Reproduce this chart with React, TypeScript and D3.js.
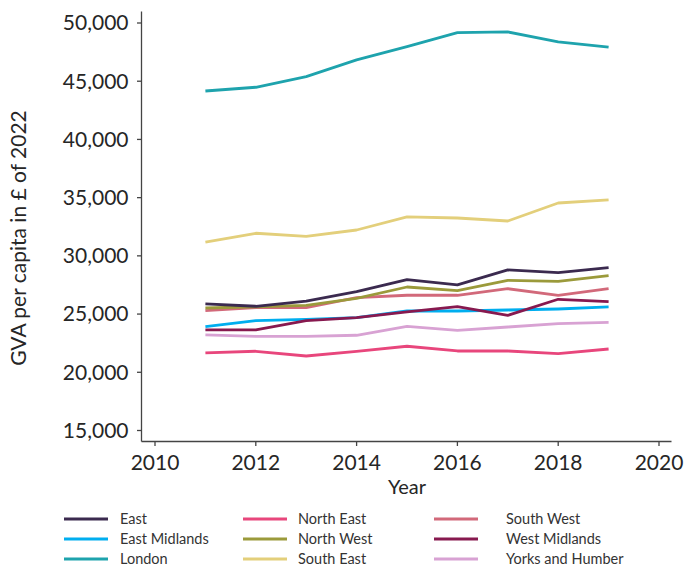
import React from "react";
import * as d3 from "d3";

const years = [2011, 2012, 2013, 2014, 2015, 2016, 2017, 2018, 2019];
const xTicks = [2010, 2012, 2014, 2016, 2018, 2020];
const yTicks = [15000, 20000, 25000, 30000, 35000, 40000, 45000, 50000];

const regions = [
  "East", "East Midlands", "London",
  "North East", "North West", "South East",
  "South West", "West Midlands", "Yorks and Humber",
];
const colors = [
  "#3b2a4f", "#00aeef", "#1ea3ad",
  "#e8467c", "#9b9a3b", "#e3cf7b",
  "#d2697a", "#87194f", "#d8a2d3",
];

const east = [25870, 25670, 26120, 26920, 27950, 27500, 28790, 28555, 28985];
const eastMidlands = [23915, 24430, 24550, 24690, 25265, 25265, 25350, 25435, 25610];
const london = [44160, 44480, 45390, 46830, 47970, 49170, 49230, 48370, 47920];
const northEast = [21660, 21805, 21400, 21805, 22235, 21830, 21830, 21600, 22000];
const northWest = [25520, 25630, 25755, 26355, 27325, 27010, 27900, 27815, 28300];
const southEast = [31170, 31940, 31680, 32220, 33340, 33250, 32995, 34540, 34800];
const southWest = [25290, 25550, 25550, 26410, 26615, 26615, 27180, 26615, 27180];
const westMidlands = [23635, 23635, 24430, 24690, 25180, 25635, 24895, 26270, 26065];
const yorks = [23205, 23090, 23090, 23180, 23950, 23605, 23890, 24175, 24295];

const seriesValues = [
  east, eastMidlands, london,
  northEast, northWest, southEast,
  southWest, westMidlands, yorks,
];

// draw order (back to front)
const drawOrder = [2, 5, 8, 3, 1, 7, 6, 4, 0];

const W = 686;
const H = 567;
const FONT = "Lato, 'Open Sans', sans-serif";

export default function App() {
  const x = d3.scaleLinear().domain([2010, 2020]).range([155, 659]);
  const y = d3.scaleLinear().domain([15000, 50000]).range([430.5, 23]);
  const axisLeft = 141.5;
  const axisBottom = 441.5;
  const axisRight = 671.5;
  const axisTop = 11.5;
  const fmt = d3.format(",");
  const line = d3
    .line<number>()
    .x((_, i) => x(years[i]))
    .y((v) => y(v));

  const legendCols = [64, 243, 434];
  const legendTextOff = [56, 55, 72];
  const legendRows = [519, 539, 559];

  return (
    <div style={{ position: "absolute", left: 0, top: 0 }}>
      <svg width={W} height={H} style={{ display: "block", background: "#fff" }}>
        {/* axes */}
        <line x1={axisLeft} x2={axisLeft} y1={axisTop} y2={axisBottom} stroke="#444" strokeWidth={1.3} />
        <line x1={axisLeft} x2={axisRight} y1={axisBottom} y2={axisBottom} stroke="#444" strokeWidth={1.3} />
        {yTicks.map((t) => (
          <g key={t}>
            <line x1={axisLeft - 4.5} x2={axisLeft} y1={y(t)} y2={y(t)} stroke="#444" strokeWidth={1.3} />
            <text
              x={axisLeft - 13}
              y={y(t)}
              dy="0.35em"
              textAnchor="end"
              fontFamily={FONT}
              fontSize={21}
              fill="#262626"
            >
              {fmt(t)}
            </text>
          </g>
        ))}
        {xTicks.map((t) => (
          <g key={t}>
            <line x1={x(t)} x2={x(t)} y1={axisBottom} y2={axisBottom + 4.5} stroke="#444" strokeWidth={1.3} />
            <text
              x={x(t)}
              y={470}
              textAnchor="middle"
              fontFamily={FONT}
              fontSize={21}
              fill="#262626"
            >
              {t}
            </text>
          </g>
        ))}
        <text x={407} y={494} textAnchor="middle" fontFamily={FONT} fontSize={20} fill="#262626">
          Year
        </text>
        <text
          transform={`translate(26,238) rotate(-90)`}
          textAnchor="middle"
          fontFamily={FONT}
          fontSize={21}
          fill="#262626"
        >
          GVA per capita in £ of 2022
        </text>

        {/* series */}
        {drawOrder.map((i) => (
          <path
            key={regions[i]}
            d={line(seriesValues[i]) || ""}
            fill="none"
            stroke={colors[i]}
            strokeWidth={2.8}
            strokeLinejoin="round"
          />
        ))}

        {/* legend */}
        {regions.map((r, i) => {
          const col = Math.floor(i / 3);
          const row = i % 3;
          const lx = legendCols[col];
          const ly = legendRows[row];
          return (
            <g key={r}>
              <line x1={lx} x2={lx + 44} y1={ly} y2={ly} stroke={colors[i]} strokeWidth={3} />
              <text
                x={lx + legendTextOff[col]}
                y={ly}
                dy="0.35em"
                fontFamily={FONT}
                fontSize={14.5}
                fill="#333"
              >
                {r}
              </text>
            </g>
          );
        })}
      </svg>
    </div>
  );
}
